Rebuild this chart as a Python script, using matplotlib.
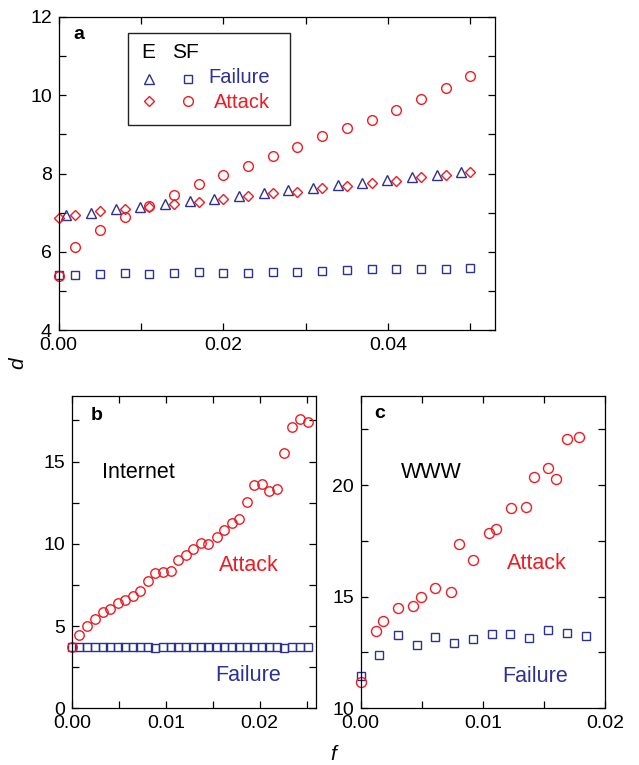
import numpy as np
import matplotlib
matplotlib.use("Agg")
import matplotlib.pyplot as plt
from matplotlib.ticker import MultipleLocator, FormatStrFormatter
from matplotlib.patches import Rectangle

plt.rcParams['font.family'] = ['Liberation Sans', 'DejaVu Sans']

RED = '#ed1c24'
BLUE = '#2e3192'

# panel a: exponential (E) and scale-free (SF) networks
a_f = [0.000, 0.002, 0.005, 0.008, 0.011, 0.014, 0.017, 0.020, 0.023, 0.026,
       0.029, 0.032, 0.035, 0.038, 0.041, 0.044, 0.047, 0.050]
sf_attack = [5.38, 6.11, 6.55, 6.88, 7.17, 7.45, 7.73, 7.97, 8.19, 8.44,
             8.69, 8.95, 9.17, 9.38, 9.62, 9.90, 10.18, 10.48]
sf_fail = [5.40, 5.41, 5.42, 5.46, 5.44, 5.46, 5.48, 5.47, 5.47, 5.48,
           5.49, 5.51, 5.54, 5.55, 5.56, 5.56, 5.57, 5.59]
e_attack = [6.86, 6.93, 7.03, 7.10, 7.15, 7.22, 7.27, 7.36, 7.42, 7.49,
            7.54, 7.62, 7.69, 7.77, 7.81, 7.91, 7.97, 8.05]
e_fail_f = [0.0009, 0.0039, 0.0069, 0.0099, 0.0129, 0.0159, 0.0189, 0.0219, 0.0249,
            0.0279, 0.0309, 0.0339, 0.0369, 0.0399, 0.0429, 0.0459, 0.0489]
e_fail = [6.93, 7.00, 7.10, 7.15, 7.22, 7.29, 7.34, 7.42, 7.49,
          7.57, 7.62, 7.70, 7.77, 7.83, 7.91, 7.95, 8.03]

# panel b: Internet
b_f = [0.0000, 0.00078, 0.00163, 0.00245, 0.00326, 0.00404, 0.00486, 0.00567,
       0.00645, 0.00723, 0.00809, 0.00887, 0.00968, 0.0105, 0.0113, 0.0121,
       0.0129, 0.0137, 0.0145, 0.0154, 0.0162, 0.0170, 0.0178, 0.0186,
       0.0194, 0.0202, 0.0210, 0.0218, 0.0226, 0.0234, 0.0243, 0.0251]
b_attack = [3.71, 4.48, 5.01, 5.41, 5.88, 6.06, 6.39, 6.59, 6.83, 7.14, 7.74,
            8.21, 8.31, 8.37, 9.00, 9.33, 9.69, 10.03, 9.99, 10.40, 10.85,
            11.29, 11.49, 12.55, 13.56, 13.62, 13.18, 13.34, 15.53, 17.07,
            17.58, 17.43]
b_fail = [3.71, 3.70, 3.71, 3.72, 3.70, 3.71, 3.73, 3.71, 3.70, 3.71, 3.70,
          3.67, 3.70, 3.71, 3.70, 3.71, 3.70, 3.71, 3.70, 3.71, 3.70, 3.71,
          3.70, 3.71, 3.70, 3.71, 3.70, 3.71, 3.67, 3.70, 3.71, 3.71]

# panel c: WWW
c_attack_f = [0.0, 0.00123, 0.00185, 0.00305, 0.00431, 0.00493, 0.0061, 0.00738,
              0.00801, 0.00918, 0.01046, 0.01106, 0.01226, 0.01351, 0.01417,
              0.01531, 0.01594, 0.01687, 0.01782]
c_attack = [11.18, 13.45, 13.93, 14.51, 14.60, 14.99, 15.40, 15.21, 17.34, 16.66,
            17.84, 18.04, 18.99, 19.01, 20.34, 20.76, 20.28, 22.06, 22.13]
c_fail_f = [0.0, 0.00153, 0.00305, 0.00458, 0.0061, 0.00763, 0.00918, 0.01071,
            0.01223, 0.01376, 0.01531, 0.01684, 0.01842]
c_fail = [11.45, 12.37, 13.27, 12.84, 13.19, 12.94, 13.09, 13.31, 13.33, 13.16,
          13.51, 13.37, 13.24]

FS = 14
TS = 15.5
mew = 1.0


def style(ax):
    ax.tick_params(which='both', direction='in', top=True, right=True,
                   length=5, width=0.9, labelsize=FS, pad=5)
    for s in ax.spines.values():
        s.set_linewidth(0.9)


def hollow(ax, x, y, m, c, ms, **kw):
    ax.plot(x, y, m, mfc='none', mec=c, ms=ms, mew=mew, ls='none', **kw)


fig = plt.figure(figsize=(6.39, 7.65), dpi=100)

# ---- a ----
ax = fig.add_axes([0.0919, 0.5686, 0.6828, 0.4092])
hollow(ax, a_f, sf_fail, 's', BLUE, 5.3, clip_on=False)
hollow(ax, e_fail_f, e_fail, '^', BLUE, 6.8, clip_on=False)
hollow(ax, a_f, e_attack, 'D', RED, 5.0, clip_on=False)
hollow(ax, a_f, sf_attack, 'o', RED, 7.0, clip_on=False)
ax.set_xlim(0, 0.053)
ax.set_ylim(4, 12)
ax.xaxis.set_major_locator(MultipleLocator(0.02))
ax.xaxis.set_minor_locator(MultipleLocator(0.01))
ax.yaxis.set_major_locator(MultipleLocator(2))
ax.yaxis.set_minor_locator(MultipleLocator(1))
ax.xaxis.set_major_formatter(FormatStrFormatter('%.2f'))
style(ax)
ax.text(0.034, 0.943, 'a', transform=ax.transAxes, fontsize=14,
        fontweight='bold', ha='left', va='center')

# legend box drawn by hand
ax.add_patch(Rectangle((0.159, 0.655), 0.371, 0.294, transform=ax.transAxes,
                       fill=False, lw=1.0, ec='#222222'))
ax.text(0.205, 0.885, 'E', transform=ax.transAxes, fontsize=15, ha='center', va='center')
ax.text(0.290, 0.885, 'SF', transform=ax.transAxes, fontsize=15, ha='center', va='center')
hollow(ax, [0.207], [0.801], '^', BLUE, 6.8, transform=ax.transAxes)
hollow(ax, [0.297], [0.801], 's', BLUE, 5.3, transform=ax.transAxes)
hollow(ax, [0.207], [0.732], 'D', RED, 5.0, transform=ax.transAxes)
hollow(ax, [0.297], [0.732], 'o', RED, 7.0, transform=ax.transAxes)
ax.text(0.414, 0.807, 'Failure', transform=ax.transAxes, fontsize=14.5,
        color=BLUE, ha='center', va='center')
ax.text(0.419, 0.726, 'Attack', transform=ax.transAxes, fontsize=14.5,
        color=RED, ha='center', va='center')

# ---- b ----
bx = fig.add_axes([0.1127, 0.0741, 0.3818, 0.4086])
hollow(bx, b_f, b_fail, 's', BLUE, 5.8, clip_on=False)
hollow(bx, b_f, b_attack, 'o', RED, 6.8, clip_on=False)
bx.set_xlim(0, 0.026)
bx.set_ylim(0, 19)
bx.xaxis.set_major_locator(MultipleLocator(0.01))
bx.xaxis.set_minor_locator(MultipleLocator(0.005))
bx.yaxis.set_major_locator(MultipleLocator(5))
bx.yaxis.set_minor_locator(MultipleLocator(2.5))
bx.xaxis.set_major_formatter(FormatStrFormatter('%.2f'))
style(bx)
bx.text(0.0765, 0.938, 'b', transform=bx.transAxes, fontsize=14,
        fontweight='bold', ha='left', va='center')
bx.text(0.272, 0.754, 'Internet', transform=bx.transAxes, fontsize=TS,
        ha='center', va='center')
bx.text(0.723, 0.456, 'Attack', transform=bx.transAxes, fontsize=TS,
        color=RED, ha='center', va='center')
bx.text(0.723, 0.104, 'Failure', transform=bx.transAxes, fontsize=TS,
        color=BLUE, ha='center', va='center')

# ---- c ----
cx = fig.add_axes([0.5645, 0.0741, 0.3828, 0.4086])
hollow(cx, c_fail_f, c_fail, 's', BLUE, 5.6, clip_on=False)
hollow(cx, c_attack_f, c_attack, 'o', RED, 7.2, clip_on=False)
cx.set_xlim(0, 0.02)
cx.set_ylim(10, 24)
cx.xaxis.set_major_locator(MultipleLocator(0.01))
cx.xaxis.set_minor_locator(MultipleLocator(0.005))
cx.yaxis.set_major_locator(MultipleLocator(5))
cx.yaxis.set_minor_locator(MultipleLocator(2.5))
cx.xaxis.set_major_formatter(FormatStrFormatter('%.2f'))
style(cx)
cx.text(0.055, 0.943, 'c', transform=cx.transAxes, fontsize=14,
        fontweight='bold', ha='left', va='center')
cx.text(0.29, 0.754, 'WWW', transform=cx.transAxes, fontsize=TS,
        ha='center', va='center')
cx.text(0.719, 0.464, 'Attack', transform=cx.transAxes, fontsize=TS,
        color=RED, ha='center', va='center')
cx.text(0.714, 0.101, 'Failure', transform=cx.transAxes, fontsize=TS,
        color=BLUE, ha='center', va='center')

fig.text(18 / 639, 1 - 363 / 765, 'd', rotation=90, style='italic',
         fontsize=15, ha='center', va='center')
fig.text(333 / 639, 1 - 754 / 765, 'f', style='italic',
         fontsize=15, ha='center', va='center')

fig.savefig('out.png', dpi=100)
